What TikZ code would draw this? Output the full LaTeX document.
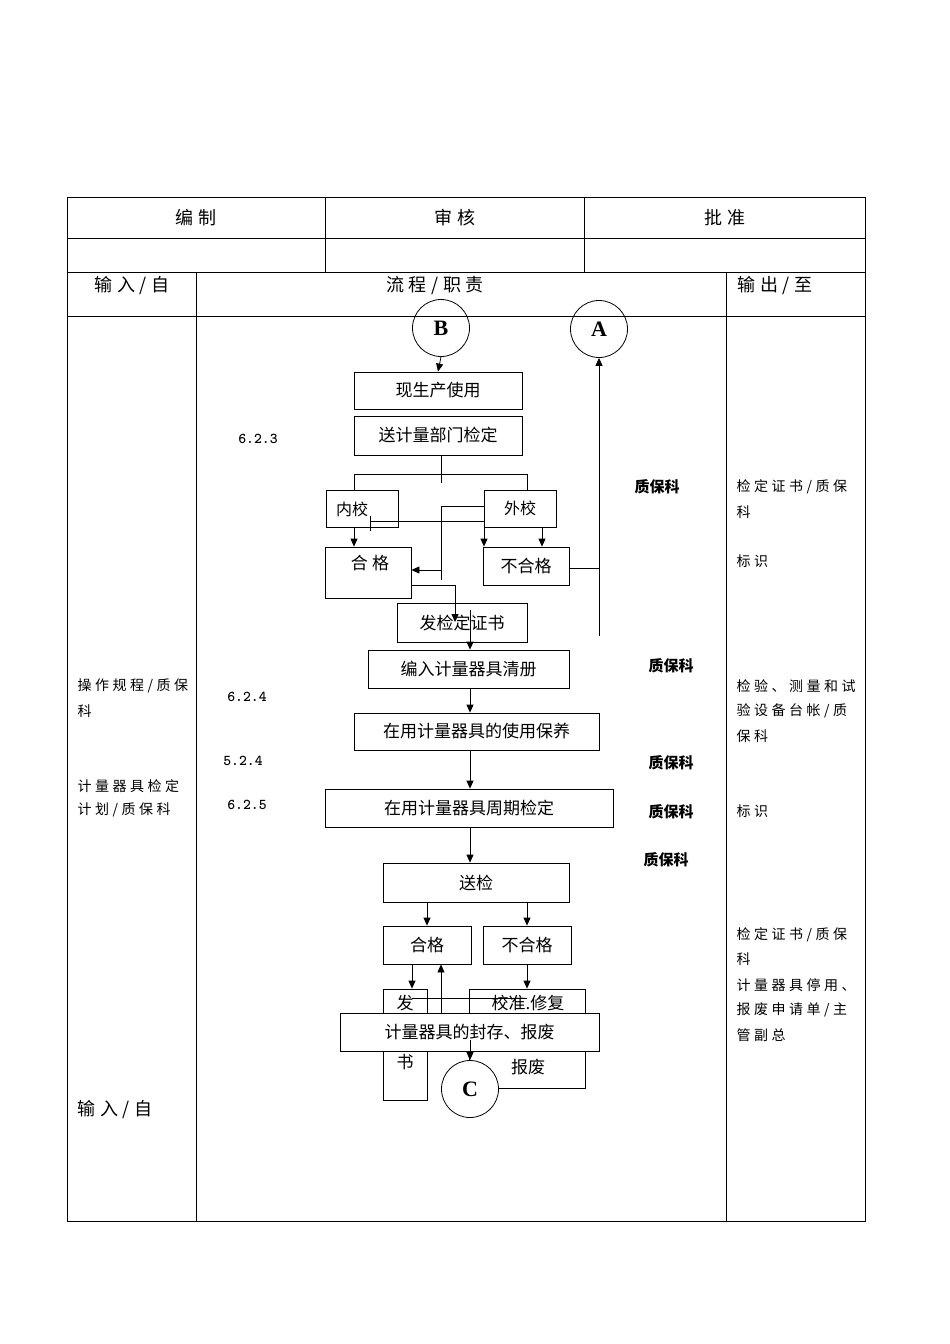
\documentclass[tikz,border=0pt]{standalone}
\usepackage{fontspec}
\setmainfont{Liberation Serif}
\newfontfamily\cjk{Noto Sans CJK SC}
\newfontfamily\cjksp[LetterSpace=25]{Noto Sans CJK SC}
\usetikzlibrary{arrows.meta}
\begin{document}
\begin{tikzpicture}[x=1pt,y=-1pt,
  bx/.style={draw,line width=0.8pt,minimum width=#1,inner sep=0pt,font=\cjk\fontsize{17}{17}\selectfont},
  ar/.style={-{Triangle[length=8pt,width=7pt]},line width=0.8pt},
  ln/.style={line width=0.8pt},
  circ/.style={draw,circle,minimum size=57pt,inner sep=0pt,line width=0.8pt,font=\bfseries\fontsize{22}{22}\selectfont},
  zb/.style={font=\cjk\bfseries\fontsize{15}{15}\selectfont},
  num/.style={font=\ttfamily\bfseries\fontsize{15}{15}\selectfont},
  side/.style={anchor=west,font=\cjksp\fontsize{14}{14}\selectfont},
  hd/.style={font=\cjksp\fontsize{18}{18}\selectfont}]
\useasboundingbox (0,0) rectangle (950,1344);
\fill[white] (0,0) rectangle (950,1344);
% table
\draw[ln] (67,197) rectangle (865,1221);
\draw[ln] (67,238) -- (865,238) (67,272) -- (865,272) (67,316) -- (865,316);
\draw[ln] (325,197) -- (325,272) (584,197) -- (584,272);
\draw[ln] (196,272) -- (196,1221) (726,272) -- (726,1221);
\node[hd] at (196,218) {编制};
\node[hd] at (455,218) {审核};
\node[hd] at (725,218) {批准};
\node[hd] at (132,286) {输入/自};
\node[hd] at (435,286) {流程/职责};
\node[hd] at (775,286) {输出/至};
% circles
\node[circ] (B) at (441,328) {B};
\node[circ] (A) at (599,329) {A};
% boxes
\node[bx=168pt,minimum height=37pt] (s1) at (438,390.5) {现生产使用};
\node[bx=168pt,minimum height=39pt] (s2) at (438,435.5) {送计量部门检定};
\node[bx=72pt,minimum height=37pt,font=\cjk\fontsize{16}{16}\selectfont,text depth=0pt,align=left] (nj) at (362,508.5) {内校\hspace{20pt}};
\node[bx=72pt,minimum height=37pt,font=\cjk\fontsize{16}{16}\selectfont] (wj) at (520,508.5) {外校\hspace{20pt}};
\node[bx=86pt,minimum height=51pt] (hg1) at (368,572.5) {};
\node[font=\cjksp\fontsize{17}{17}\selectfont] at (370,563) {合格};
\node[bx=86pt,minimum height=38pt] (bh1) at (526,566) {不合格};
\node[bx=130pt,minimum height=39pt] (fz) at (462,622.5) {发检定证书};
\node[bx=201pt,minimum height=38pt] (br) at (468.5,669) {编入计量器具清册};
\node[bx=245pt,minimum height=37pt] (by) at (476.5,731.5) {在用计量器具的使用保养};
\node[bx=288pt,minimum height=38pt] (zq) at (469,808) {在用计量器具周期检定};
\node[bx=186pt,minimum height=39pt] (sj) at (476,882.5) {送检};
\node[bx=88pt,minimum height=38pt] (hg2) at (427,945) {合格};
\node[bx=88pt,minimum height=38pt] (bh2) at (527,945) {不合格};
\node[bx=44pt,minimum height=111pt] (fs) at (405,1044.5) {};
\node[font=\cjk\fontsize{17}{17}\selectfont] at (405,1003) {发};
\node[font=\cjk\fontsize{17}{17}\selectfont] at (405,1062) {书};
\node[bx=116pt,minimum height=99pt] (jz) at (527,1038.5) {};
\node[font=\cjk\fontsize{17}{17}\selectfont] at (528,1003) {校准.修复};
\node[font=\cjk\fontsize{17}{17}\selectfont] at (528,1067) {报废};
\draw[ln] (412,998) -- (527,998);
\node[bx=259pt,minimum height=38pt,fill=white] (fc) at (469.5,1032) {计量器具的封存、报废};
\node[circ,fill=white] (C) at (470,1089) {C};
% connectors
\draw[ar] (B.south) -- (s1.north);
\draw[ln] (441,455) -- (441,483);
\draw[ln] (354,474) -- (527,474);
\draw[ln] (354,474) -- (nj.north -| 354,0);
\draw[ln] (527,474) -- (wj.north -| 527,0);
\draw[ar] (nj.south -| 354,0) -- (hg1.north -| 354,0);
\draw[ar] (wj.south -| 542,0) -- (bh1.north -| 542,0);
\draw[ar] (484,521) -- (bh1.north -| 484,0);
\draw[ln] (370,521) -- (484,521) (370,516) -- (370,531);
\draw[ln] (wj.west |- 0,506) -- (441,506) -- (441,580);
\draw[ar] (441,570) -- (hg1.east |- 0,570);
\draw[ar] (hg1.east |- 0,585) -- (455,585) -- (455,622);
\draw[ar] (470,610) -- (br.north -| 470,0);
\draw[ar] (bh1.east |- 0,568) -- (599,568) -- (599,636) (599,568) -- (A.south);
\draw[ar] (br.south -| 470,0) -- (by.north -| 470,0);
\draw[ar] (by.south -| 470,0) -- (zq.north -| 470,0);
\draw[ar] (zq.south -| 470,0) -- (sj.north -| 470,0);
\draw[ar] (sj.south -| 427,0) -- (hg2.north);
\draw[ar] (sj.south -| 527,0) -- (bh2.north);
\draw[ar] (hg2.south -| 412,0) -- (fs.north -| 412,0);
\draw[ar] (bh2.south -| 527,0) -- (jz.north -| 527,0);
\draw[ar] (fc.north -| 441,0) -- (hg2.south -| 441,0);
\draw[ar] (470,1040) -- (C.north);
% labels
\node[num] at (258,439) {6.2.3};
\node[num] at (247,697) {6.2.4};
\node[num] at (243,761) {5.2.4};
\node[num] at (247,805) {6.2.5};
\node[zb] at (657,487) {质保科};
\node[zb] at (671,666) {质保科};
\node[zb] at (671,763) {质保科};
\node[zb] at (671,812) {质保科};
\node[zb] at (666,860) {质保科};
\node[side] at (74,686) {操作规程/质保};
\node[side] at (74,711) {科};
\node[side] at (74,786) {计量器具检定};
\node[side] at (74,810) {计划/质保科};
\node[side,font=\cjksp\fontsize{18}{18}\selectfont] at (74,1110) {输入/自};
\node[side] at (733,487) {检定证书/质保};
\node[side] at (733,512) {科};
\node[side] at (733,561) {标识};
\node[side] at (733,686) {检验、测量和试};
\node[side] at (733,711) {验设备台帐/质};
\node[side] at (733,736) {保科};
\node[side] at (733,811) {标识};
\node[side] at (733,935) {检定证书/质保};
\node[side] at (733,959) {科};
\node[side] at (733,985) {计量器具停用、};
\node[side] at (733,1010) {报废申请单/主};
\node[side] at (733,1035) {管副总};
\end{tikzpicture}
\end{document}
